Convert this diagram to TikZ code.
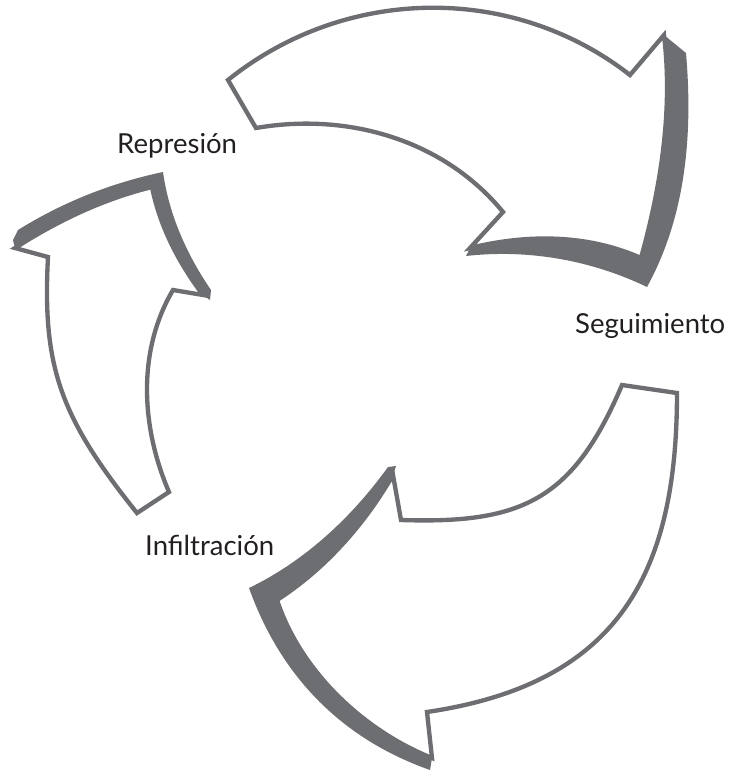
\documentclass[tikz,border=0pt]{standalone}
\usepackage{fontspec}
\newfontfamily\cyclefont{Lato}
\definecolor{arrowgray}{HTML}{6D6E71}
\definecolor{textgray}{HTML}{231F20}

\begin{document}
\begin{tikzpicture}[x=0.03cm, y=-0.03cm,
		arrowbody/.style={fill=white, draw=arrowgray, line width=3.7pt, line join=miter},
		arrowshade/.style={fill=arrowgray},
		cyclelabel/.style={anchor=base west, inner sep=0pt, text=textgray,
			font=\cyclefont\fontsize{23.5}{28}\selectfont}]
			\useasboundingbox (0,0) rectangle (729,772);

			% Shaded edges of the arrow heads
			\fill[arrowshade] (664,35) -- (686,53)
				.. controls (693,134) and (686,216) .. (647,287)
				.. controls (591,260) and (528,249) .. (466,256)
				-- (470,248) -- (600,150) -- cycle;
			\fill[arrowshade] (393,475) -- (396,466) -- (388,467)
				.. controls (352,517) and (305,561) .. (249,588)
				.. controls (282,680) and (345,740) .. (430,770)
				-- (432,758) -- (400,650) -- cycle;
			\fill[arrowshade] (15,248) -- (13,240) -- (18,230)
				.. controls (63,202) and (111,183) .. (163,172)
				.. controls (169,215) and (187,255) .. (211,290)
				-- (210,300) -- (203,295) -- (130,250) -- cycle;

			% Represion -> Seguimiento
			\draw[arrowbody] (228,80) -- (256,128)
				.. controls (348,112) and (444,140) .. (503,212)
				-- (470,248)
				.. controls (527,234) and (587,234) .. (641,258)
				.. controls (661,186) and (673,110) .. (664,35)
				-- (630,75)
				.. controls (512,-17) and (345,-14) .. (228,80) -- cycle;

			% Seguimiento -> Infiltracion
			\draw[arrowbody] (622,385) -- (677,393)
				.. controls (677,577) and (616,684) .. (427,712)
				-- (432,758)
				.. controls (362,730) and (300,670) .. (277,600)
				.. controls (325,569) and (364,525) .. (393,475)
				-- (401,520)
				.. controls (522,524) and (573,500) .. (622,385) -- cycle;

			% Infiltracion -> Represion
			\draw[arrowbody] (137,513)
				.. controls (61,418) and (42,368) .. (48,257)
				-- (15,248)
				.. controls (57,221) and (103,199) .. (152,187)
				.. controls (160,227) and (179,263) .. (203,295)
				-- (173,290)
				.. controls (137,351) and (141,427) .. (169,492) -- cycle;

			% Labels
			\node[cyclelabel] (represion) at (117,153) {Represión};
			\node[cyclelabel] (seguimiento) at (575,333) {Seguimiento};
			\node[cyclelabel] (infiltracion) at (145,555) {Infiltración};
		\end{tikzpicture}
\end{document}
